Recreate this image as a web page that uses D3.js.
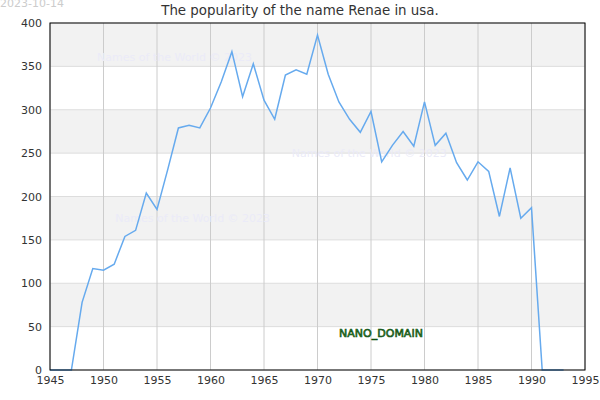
<!DOCTYPE html>
<html lang="en">
  <head>
    <meta charset="UTF-8" />
    <title>Renae popularity</title>
    <style>
      body { margin: 0; background: #fff; }
      svg text { font-family: "DejaVu Sans", sans-serif; }
    </style>
  </head>
  <body>
    <div id="chart"></div>
    <script src="https://d3js.org/d3.v7.min.js"></script>
    <script>
      const years = d3.range(1945, 1994);
      const counts = [
        0, 0, 0, 78, 117, 115, 122, 154, 161, 204,
        185, 231, 279, 282, 279, 302, 332, 367, 315, 353,
        311, 289, 340, 346, 341, 386, 341, 309, 289, 274,
        298, 240, 259, 275, 258, 309, 259, 273, 239, 219,
        240, 229, 177, 233, 175, 187, 0, 0, 0
      ];
      const xTicks = d3.range(1945, 2000, 5);
      const yTicks = d3.range(0, 450, 50);
      const watermarks = [
        { x: 1949.4, y: 356 },
        { x: 1967.6, y: 245 },
        { x: 1951.1, y: 171 }
      ];

      const width = 600, height = 400;
      const margin = { top: 23, right: 15, bottom: 30, left: 50 };

      const svg = d3.select("#chart").append("svg")
        .attr("width", width).attr("height", height);

      const x = d3.scaleLinear().domain([1945, 1995])
        .range([margin.left, width - margin.right]);
      const y = d3.scaleLinear().domain([0, 400])
        .range([height - margin.bottom, margin.top]);

      // alternating bands
      svg.selectAll("rect.band")
        .data(yTicks.slice(0, -1))
        .enter().append("rect")
        .attr("x", x(1945))
        .attr("width", x(1995) - x(1945))
        .attr("y", (d) => y(d + 50))
        .attr("height", (d) => y(d) - y(d + 50))
        .attr("fill", (d) => (d / 50) % 2 === 1 ? "#f2f2f2" : "#ffffff");

      // grid
      svg.selectAll("line.hgrid")
        .data(yTicks).enter().append("line")
        .attr("x1", x(1945)).attr("x2", x(1995))
        .attr("y1", (d) => y(d)).attr("y2", (d) => y(d))
        .attr("stroke", "#dddddd");
      svg.selectAll("line.vgrid")
        .data(xTicks).enter().append("line")
        .attr("x1", (d) => x(d)).attr("x2", (d) => x(d))
        .attr("y1", y(0)).attr("y2", y(400))
        .attr("stroke", "#cccccc");

      // watermarks
      svg.selectAll("text.wm")
        .data(watermarks).enter().append("text")
        .attr("x", (d) => x(d.x)).attr("y", (d) => y(d.y))
        .attr("font-size", 11)
        .attr("fill", "#ebebf8")
        .text("Names of the World © 2023");

      // line
      const line = d3.line()
        .x((d, i) => x(years[i]))
        .y((d) => y(d));
      svg.append("path")
        .datum(counts)
        .attr("d", line)
        .attr("fill", "none")
        .attr("stroke", "#66aaee")
        .attr("stroke-width", 1.5);

      // frame
      svg.append("rect")
        .attr("x", x(1945)).attr("y", y(400))
        .attr("width", x(1995) - x(1945))
        .attr("height", y(0) - y(400))
        .attr("fill", "none").attr("stroke", "#000");

      // axes
      const xAxis = svg.append("g")
        .attr("transform", `translate(0,${y(0)})`)
        .call(d3.axisBottom(x).tickValues(xTicks).tickFormat(d3.format("d")).tickSize(0).tickPadding(6));
      const yAxis = svg.append("g")
        .attr("transform", `translate(${x(1945)},0)`)
        .call(d3.axisLeft(y).tickValues(yTicks).tickSize(0).tickPadding(8));
      [xAxis, yAxis].forEach((g) => {
        g.select(".domain").remove();
        g.selectAll("text")
          .attr("font-size", 11)
          .attr("fill", "#333")
          .attr("font-family", "DejaVu Sans, sans-serif");
      });

      // title
      svg.append("text")
        .attr("x", 300).attr("y", 15)
        .attr("text-anchor", "middle")
        .attr("font-size", 13.4)
        .attr("fill", "#333")
        .text("The popularity of the name Renae in usa.");

      svg.append("text")
        .attr("x", 0).attr("y", 7)
        .attr("font-size", 11)
        .attr("fill", "#cccccc")
        .text("2023-10-14");

      svg.append("text")
        .attr("x", 381).attr("y", 337)
        .attr("text-anchor", "middle")
        .attr("font-size", 11)
        .attr("fill", "#3a8a3a")
        .attr("stroke", "#0d4d0d")
        .attr("stroke-width", 0.6)
        .text("NANO_DOMAIN");
    </script>
  </body>
</html>
